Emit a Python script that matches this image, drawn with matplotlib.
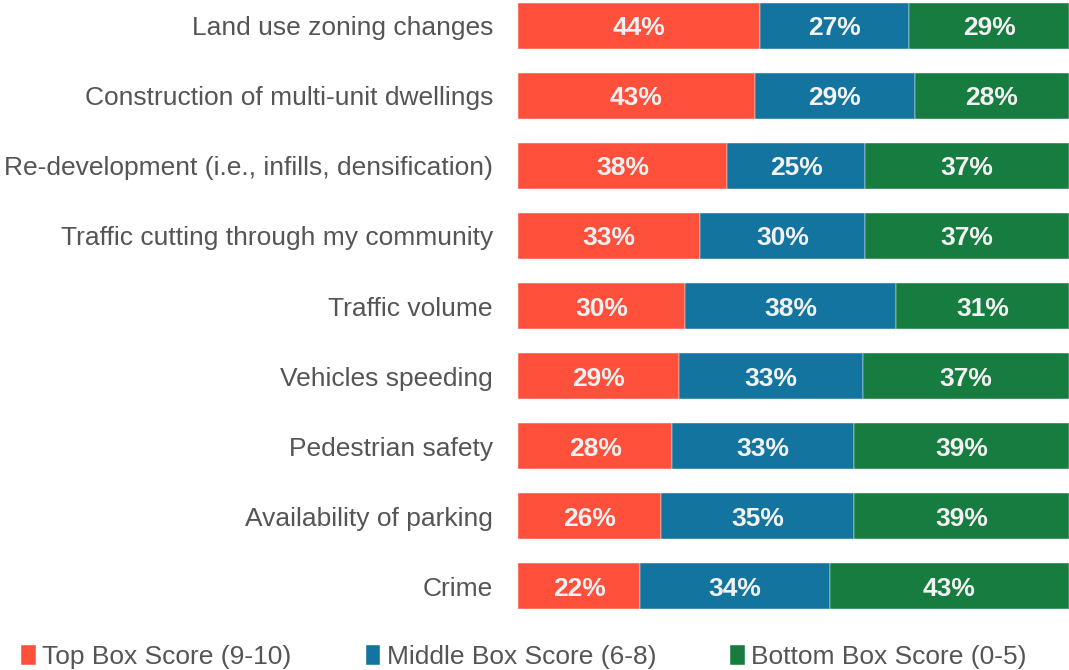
import matplotlib
matplotlib.use('Agg')

import numpy as np
import matplotlib.pyplot as plt

# survey concerns, top to bottom
categories = ["Land use zoning changes",
              "Construction of multi-unit dwellings",
              "Re-development (i.e., infills, densification)",
              "Traffic cutting through my community",
              "Traffic volume",
              "Vehicles speeding",
              "Pedestrian safety",
              "Availability of parking",
              "Crime"]
top_box = [44, 43, 38, 33, 30, 29, 28, 26, 22]
middle_box = [27, 29, 25, 30, 38, 33, 33, 35, 34]
bottom_box = [29, 28, 37, 37, 31, 37, 39, 39, 43]
series_names = ["Top Box Score (9-10)", "Middle Box Score (6-8)", "Bottom Box Score (0-5)"]
colors = ["#FF503C", "#13759F", "#177C40"]

plt.rcParams['font.family'] = ['Liberation Sans', 'DejaVu Sans']

fig = plt.figure(figsize=(10.69, 6.7), dpi=100)
ax = fig.add_axes([518 / 1069, 1 - 612 / 670, 551 / 1069, 612 / 670])

data = np.array([top_box, middle_box, bottom_box], dtype=float)
# bars are drawn as share of the row total (rounded values don't always sum to 100)
shares = data / data.sum(axis=0) * 100
y = np.arange(len(categories))
left = np.zeros(len(categories))
for k in range(3):
    bars = ax.barh(y, shares[k], left=left, height=0.66, color=colors[k],
                   label=series_names[k], edgecolor='white', linewidth=0.3)
    for i, b in enumerate(bars):
        ax.text(left[i] + shares[k][i] / 2, y[i], "%d%%" % data[k][i],
                ha='center', va='center_baseline', color='#F2F2F2',
                fontsize=19, fontweight='bold')
    left += shares[k]

ax.set_xlim(0, 100)
ax.set_ylim(8.371, -0.371)
ax.set_yticks(y)
ax.set_yticklabels(categories, fontsize=19, color='#555555')
ax.tick_params(axis='y', length=0, pad=18)
ax.set_xticks([])
for s in ax.spines.values():
    s.set_visible(False)

fig.legend(loc='center left', bbox_to_anchor=(0.02, 0.019), ncol=3,
           frameon=False, fontsize=19, labelcolor='#555555',
           handlelength=0.55, handleheight=0.75, handletextpad=0.25,
           columnspacing=2.8, borderaxespad=0, borderpad=0)

fig.savefig('out.png', dpi=100)
